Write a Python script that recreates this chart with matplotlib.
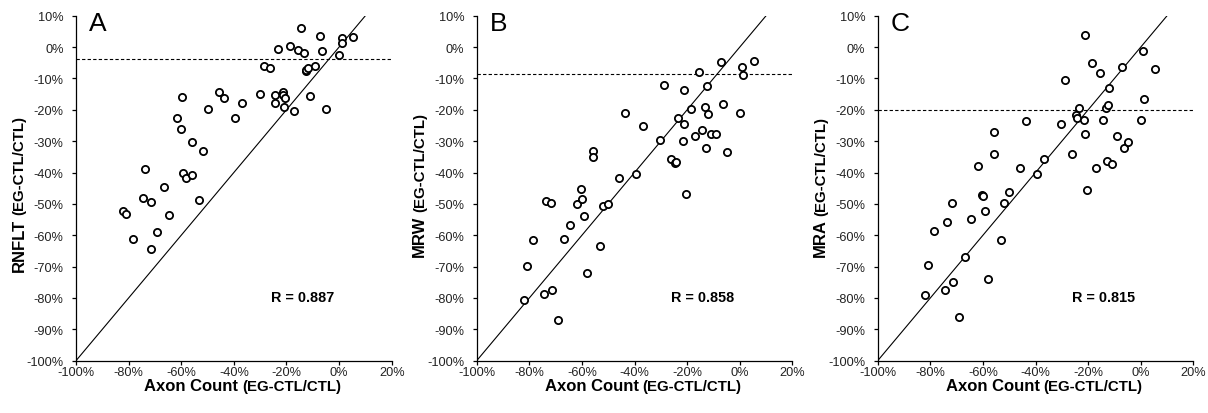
import numpy as np
import matplotlib
matplotlib.use('Agg')
import matplotlib.pyplot as plt
from matplotlib.ticker import FuncFormatter

plt.rcParams['font.family'] = ['Liberation Sans', 'DejaVu Sans']

# axon count change (shared by all three panels), %
axon = [-82.2, -80.9, -78.5, -74.5, -73.8, -71.6, -71.4, -69.1, -66.7, -64.5,
        -61.7, -60.2, -59.8, -59.2, -58.1, -55.9, -55.9, -53.1, -51.9, -50.0,
        -45.8, -43.6, -39.6, -36.8, -30.2, -28.7, -26.2, -24.5, -24.2, -23.4,
        -21.5, -21.3, -21.1, -20.5, -18.7, -17.1, -15.6, -14.5, -13.4, -12.7,
        -12.4, -11.9, -10.9, -9.1, -7.3, -6.4, -4.9, 0.0, 1.0, 1.1, 5.3]

rnflt = [-52.3, -53.1, -61.2, -48.1, -38.9, -49.3, -64.4, -59.1, -44.5, -53.4,
         -22.6, -26.0, -15.9, -40.3, -41.9, -40.9, -30.2, -48.7, -33.1, -19.8,
         -14.3, -16.1, -22.7, -17.9, -15.0, -6.0, -6.6, -15.2, -17.9, -0.6,
         -14.3, -15.3, -19.1, -16.2, 0.2, -20.4, -0.8, 6.0, -2.0, -7.7,
         -7.2, -6.8, -15.5, -5.9, 3.5, -1.4, -19.7, -2.4, 2.9, 1.2, 3.3]

mrw = [-80.6, -69.9, -61.6, -78.8, -49.1, -49.6, -77.3, -87.0, -61.2, -56.8,
       -50.0, -45.4, -48.5, -53.9, -71.9, -33.2, -35.0, -63.3, -50.7, -49.9,
       -41.9, -21.1, -40.5, -25.2, -29.5, -12.1, -35.6, -37.0, -36.8, -22.6,
       -30.0, -13.6, -24.4, -46.7, -19.9, -28.3, -8.0, -26.4, -19.0, -32.3,
       -12.4, -21.4, -27.6, -27.6, -4.7, -18.1, -33.3, -21.1, -6.5, -8.9, -4.4]

mra = [-79.1, -69.5, -58.8, -77.6, -55.8, -49.8, -74.9, -86.2, -66.8, -54.8,
       -37.9, -47.2, -47.4, -52.4, -74.0, -27.2, -34.1, -61.4, -49.6, -46.3,
       -38.7, -23.5, -40.6, -35.8, -24.5, -10.4, -34.0, -21.6, -22.5, -19.5,
       -23.4, 3.9, -27.7, -45.6, -5.0, -38.4, -8.3, -23.4, -19.3, -36.4,
       -18.4, -12.9, -37.4, -28.5, -6.2, -32.3, -30.4, -23.1, -1.2, -16.6, -7.0]

panels = ['A', 'B', 'C']
ylabels = ['RNFLT', 'MRW', 'MRA']
series = [rnflt, mrw, mra]
r_values = [0.887, 0.858, 0.815]
thresholds = [-3.9, -8.6, -20.2]

W, H = 1208, 414
fig = plt.figure(figsize=(W / 100, H / 100), dpi=100)
lefts = [76, 476.7, 877.7]
ax_w, ax_top, ax_bot = 315.7, 16.7, 361.7
ylab_centers = [194, 185, 187]

pct = FuncFormatter(lambda v, p: '%d%%' % round(v))
renderer = fig.canvas.get_renderer()


def split_label(big, small, x, y, rotation):
    # bold label in two sizes, laid out end to end (pixel coords, origin top-left)
    kw = dict(weight='bold', color='black', rotation=rotation,
              rotation_mode='anchor', ha='left', va='baseline')
    t1 = fig.text(0, 0, big, fontsize=12, **kw)
    t2 = fig.text(0, 0, small, fontsize=10.8, **kw)
    e1 = t1.get_window_extent(renderer)
    e2 = t2.get_window_extent(renderer)
    gap = 4
    if rotation == 0:
        l1, l2 = e1.width, e2.width
        start = x - (l1 + gap + l2) / 2
        t1.set_position((start / W, 1 - y / H))
        t2.set_position(((start + l1 + gap) / W, 1 - y / H))
    else:
        l1, l2 = e1.height, e2.height
        start = y + (l1 + gap + l2) / 2
        t1.set_position((x / W, 1 - start / H))
        t2.set_position((x / W, 1 - (start - l1 - gap) / H))


for i in range(3):
    ax = fig.add_axes([lefts[i] / W, 1 - ax_bot / H, ax_w / W, (ax_bot - ax_top) / H])
    ax.set_xlim(-100, 20)
    ax.set_ylim(-100, 10)
    ax.set_xticks(np.arange(-100, 21, 20))
    ax.set_yticks(np.arange(-100, 11, 10))
    ax.xaxis.set_major_formatter(pct)
    ax.yaxis.set_major_formatter(pct)
    for s in ['top', 'right']:
        ax.spines[s].set_visible(False)
    for s in ['left', 'bottom']:
        ax.spines[s].set_linewidth(0.9)
    ax.tick_params(direction='out', length=3, width=0.9, labelsize=9.2,
                   labelcolor='#222222')
    ax.tick_params(axis='y', pad=6)
    ax.tick_params(axis='x', pad=1)

    ax.plot([-100, 10], [-100, 10], color='black', lw=0.8)
    ax.axhline(thresholds[i], color='black', lw=0.8, ls=(0, (3, 2)))
    ax.plot(axon, series[i], ls='none', marker='o', ms=5.2, mfc='white',
            mec='black', mew=1.3, clip_on=False)

    ax.text(0.042, 0.959, panels[i], transform=ax.transAxes, fontsize=19,
            ha='left', va='baseline')
    ax.text(-14, -80.9, 'R = %.3f' % r_values[i], fontsize=10.4,
            weight='bold', ha='center', va='baseline')

    split_label('Axon Count', '(EG-CTL/CTL)', lefts[i] + 166.5, 391, 0)
    split_label(ylabels[i], '(EG-CTL/CTL)', lefts[i] - 52.5, ylab_centers[i], 90)

fig.savefig('out.png', dpi=100)
